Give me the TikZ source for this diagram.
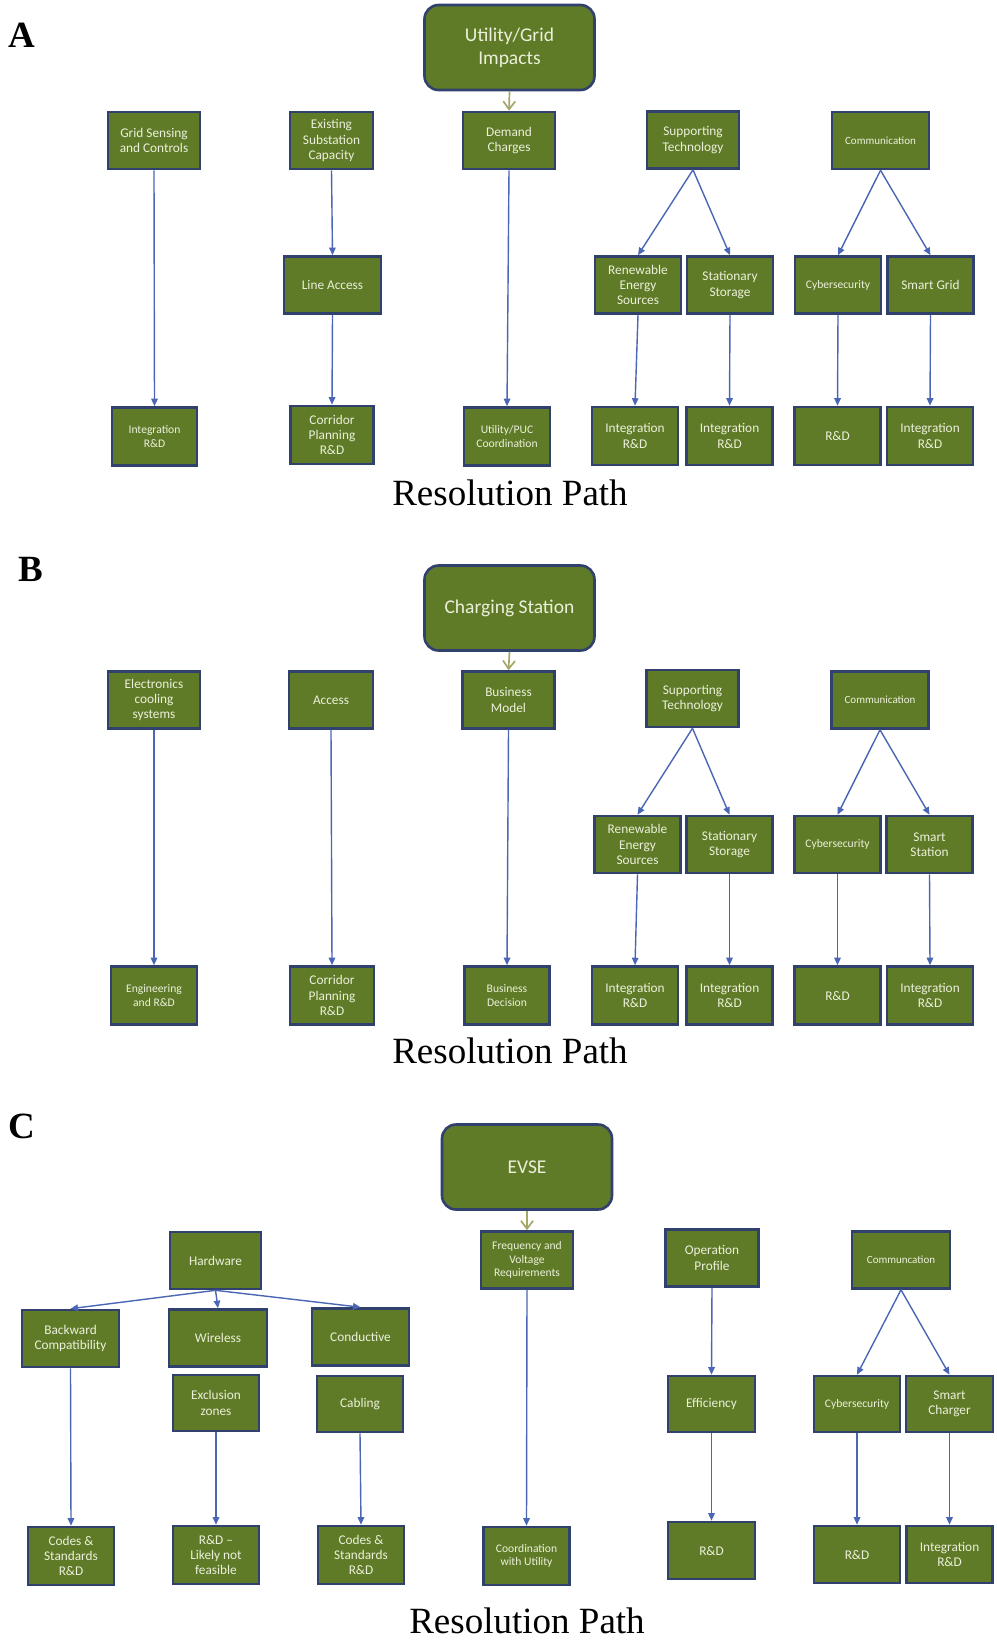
\documentclass[tikz,border=0pt]{standalone}
\usepackage{fontspec}
\setmainfont{Carlito}
\newfontfamily\serifrm{Liberation Serif}
\usetikzlibrary{arrows.meta}
\definecolor{boxgreen}{HTML}{5F7B28}
\definecolor{boxline}{HTML}{31416E}
\definecolor{boxtext}{HTML}{ECF0DA}
\definecolor{arrblue}{HTML}{4A66B5}
\definecolor{khaki}{HTML}{A4A66A}

\begin{document}
\begin{tikzpicture}[x=1pt,y=-1pt,
  every node/.style={align=center,text=boxtext,font=\fontsize{13.3}{15.3}\selectfont},
  box/.style={draw=boxline,line width=2.6pt,fill=boxgreen,inner sep=1pt,minimum width=86pt,minimum height=57pt},
  root/.style={box,rounded corners=14pt,minimum width=170pt,minimum height=85pt,font=\fontsize{19.5}{23}\selectfont},
  smalltxt/.style={font=\fontsize{11}{13}\selectfont},
  midtxt/.style={font=\fontsize{11.6}{13.6}\selectfont},
  arr/.style={-{Triangle[length=7.5pt,width=6.5pt]},arrblue,line width=1.4pt},
  drop/.style={-{Straight Barb[length=8pt,width=12pt]},khaki,line width=1.7pt},
  pathlabel/.style={text=black,anchor=base,inner sep=0pt,font=\serifrm\fontsize{37}{40}\selectfont},
  panel/.style={text=black,anchor=base west,inner sep=0pt,font=\serifrm\bfseries\fontsize{37}{40}\selectfont}
]
\useasboundingbox (0,0) rectangle (996,1641);

% panel A
\node[panel] (la) at (8,47) {A};
\node[root] (aroot) at (509.5,47.5) {Utility/Grid\\Impacts};
\node[box,minimum width=92pt] (agrid) at (154,140.5) {Grid Sensing\\and Controls};
\node[box,minimum width=83pt] (asub) at (331.5,140.5) {Existing\\Substation\\Capacity};
\node[box,minimum width=92pt] (adem) at (509,140.5) {Demand\\Charges};
\node[box,minimum width=92pt] (asup) at (693,140) {Supporting\\Technology};
\node[box,smalltxt,minimum width=97pt] (acom) at (880.5,140.5) {Communication};
\node[box,minimum width=97pt] (aline) at (332.5,285) {Line Access};
\node[box] (aren) at (638,285) {Renewable\\Energy\\Sources};
\node[box] (asto) at (730,285) {Stationary\\Storage};
\node[box,midtxt] (acyb) at (838,285) {Cybersecurity};
\node[box] (asmart) at (930.5,285) {Smart Grid};
\node[box,midtxt,minimum width=85pt,minimum height=58pt] (aint) at (154.5,436.5) {Integration\\R\&D};
\node[box,minimum width=83pt,minimum height=58pt] (acor) at (332,435) {Corridor\\Planning\\R\&D};
\node[box,midtxt,minimum height=58pt] (aupc) at (507,436.5) {Utility/PUC\\Coordination};
\node[box,minimum height=58pt] (aint2) at (635,436) {Integration\\R\&D};
\node[box,minimum height=58pt] (aint3) at (729.5,436) {Integration\\R\&D};
\node[box,minimum height=58pt] (ard) at (837.5,436) {R\&D};
\node[box,minimum height=58pt] (aint4) at (930,436) {Integration\\R\&D};
\node[pathlabel] (apath) at (510,505) {Resolution Path};

\draw[drop] (aroot.south) -- (adem.north);
\draw[arr] (agrid.south) -- (aint.north);
\draw[arr] (asub.south) -- (aline.north);
\draw[arr] (aline.south) -- (acor.north);
\draw[arr] (adem.south) -- (aupc.north);
\draw[arr] (asup.south) -- (aren.north);
\draw[arr] (asup.south) -- (asto.north);
\draw[arr] (acom.south) -- (acyb.north);
\draw[arr] (acom.south) -- (asmart.north);
\draw[arr] (aren.south) -- (aint2.north);
\draw[arr] (asto.south) -- (aint3.north);
\draw[arr] (acyb.south) -- (ard.north);
\draw[arr] (asmart.south) -- (aint4.north);

% panel B
\node[panel] (lb) at (18,581) {B};
\node[root] (broot) at (509.5,608) {Charging Station};
\node[box,minimum width=92pt] (bcool) at (154,700) {Electronics\\cooling\\systems};
\node[box,minimum width=84pt] (bacc) at (331,700) {Access};
\node[box,minimum width=92pt] (bbiz) at (508.5,700) {Business\\Model};
\node[box,minimum width=92pt] (bsup) at (692.5,698.5) {Supporting\\Technology};
\node[box,smalltxt,minimum width=97pt] (bcom) at (880,700) {Communication};
\node[box] (bren) at (637.5,844.5) {Renewable\\Energy\\Sources};
\node[box] (bsto) at (729.5,844.5) {Stationary\\Storage};
\node[box,midtxt] (bcyb) at (837.5,844.5) {Cybersecurity};
\node[box] (bsmart) at (929.5,844.5) {Smart\\Station};
\node[box,midtxt,minimum height=58pt] (beng) at (154,995.5) {Engineering\\and R\&D};
\node[box,minimum width=84pt,minimum height=58pt] (bcor) at (332,995.5) {Corridor\\Planning\\R\&D};
\node[box,midtxt,minimum width=85pt,minimum height=58pt] (bdec) at (507,995.5) {Business\\Decision};
\node[box,minimum height=58pt] (bint) at (635,995.5) {Integration\\R\&D};
\node[box,minimum height=58pt] (bint2) at (729.5,995.5) {Integration\\R\&D};
\node[box,minimum height=58pt] (brd) at (837.5,995.5) {R\&D};
\node[box,minimum height=58pt] (bint3) at (930,995.5) {Integration\\R\&D};
\node[pathlabel] (bpath) at (510,1063) {Resolution Path};

\draw[drop] (broot.south) -- (bbiz.north);
\draw[arr] (bcool.south) -- (beng.north);
\draw[arr] (bacc.south) -- (bcor.north);
\draw[arr] (bbiz.south) -- (bdec.north);
\draw[arr] (bsup.south) -- (bren.north);
\draw[arr] (bsup.south) -- (bsto.north);
\draw[arr] (bcom.south) -- (bcyb.north);
\draw[arr] (bcom.south) -- (bsmart.north);
\draw[arr] (bren.south) -- (bint.north);
\draw[arr] (bsto.south) -- (bint2.north);
\draw[arr] (bcyb.south) -- (brd.north);
\draw[arr] (bsmart.south) -- (bint3.north);

% panel C
\node[panel] (lc) at (8,1138) {C};
\node[root] (croot) at (527,1167) {EVSE};
\node[box,minimum width=91pt] (chw) at (215.5,1260.5) {Hardware};
\node[box,minimum width=97pt] (cback) at (70.5,1338.5) {Backward\\Compatibility};
\node[box,minimum width=98pt] (cwire) at (218,1338) {Wireless};
\node[box,minimum width=97pt] (ccond) at (360.5,1337) {Conductive};
\node[box,minimum height=56pt] (cexcl) at (216,1403) {Exclusion\\zones};
\node[box,minimum height=56pt] (ccab) at (360,1404) {Cabling};
\node[box,midtxt,minimum width=92pt] (cfreq) at (527,1260) {Frequency and\\Voltage\\Requirements};
\node[box,minimum width=93pt] (cop) at (712,1258) {Operation\\Profile};
\node[box,smalltxt,minimum width=98pt] (ccom) at (901,1260) {Communcation};
\node[box,minimum width=87pt,minimum height=56pt] (ceff) at (711.5,1404) {Efficiency};
\node[box,midtxt,minimum height=56pt] (ccyb) at (857,1404) {Cybersecurity};
\node[box,minimum width=87pt,minimum height=56pt] (csmart) at (949.5,1404) {Smart\\Charger};
\node[box,minimum height=58pt] (ccode) at (71,1556) {Codes \&\\Standards\\R\&D};
\node[box,minimum height=58pt] (cfeas) at (216,1555) {R\&D –\\Likely not\\feasible};
\node[box,minimum height=58pt] (ccode2) at (361,1555) {Codes \&\\Standards\\R\&D};
\node[box,midtxt,minimum height=58pt] (cutil) at (526.5,1556) {Coordination\\with Utility};
\node[box,minimum width=87pt] (crd) at (711.5,1550.5) {R\&D};
\node[box] (crd2) at (857,1554.5) {R\&D};
\node[box] (cint) at (949.5,1554.5) {Integration\\R\&D};
\node[pathlabel] (cpath) at (527,1633) {Resolution Path};

\draw[drop] (croot.south) -- (cfreq.north);
\draw[arr] (chw.south) -- (cback.north);
\draw[arr] (chw.south) -- (cwire.north);
\draw[arr] (chw.south) -- (ccond.north);
\draw[arr] (cback.south) -- (ccode.north);
\draw[arr] (cexcl.south) -- (cfeas.north);
\draw[arr] (ccab.south) -- (ccode2.north);
\draw[arr] (cfreq.south) -- (cutil.north);
\draw[arr] (cop.south) -- (ceff.north);
\draw[arr] (ceff.south) -- (crd.north);
\draw[arr] (ccom.south) -- (ccyb.north);
\draw[arr] (ccom.south) -- (csmart.north);
\draw[arr] (ccyb.south) -- (crd2.north);
\draw[arr] (csmart.south) -- (cint.north);
\end{tikzpicture}
\end{document}
